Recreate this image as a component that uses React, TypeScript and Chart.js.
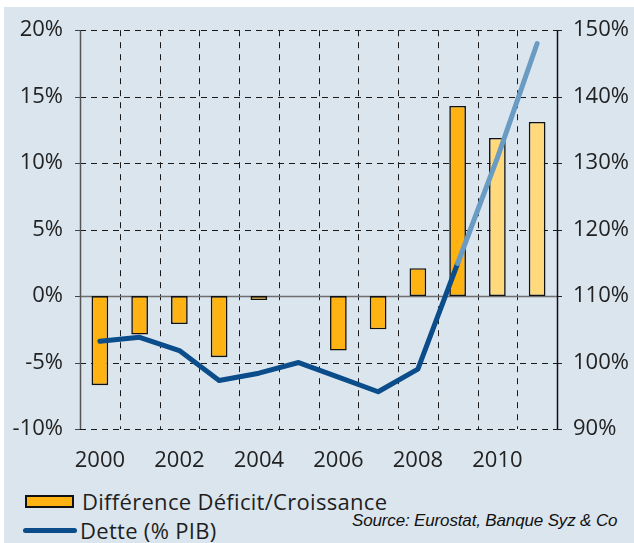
import React, { useEffect, useRef } from 'react';
import { Chart, registerables } from 'chart.js';

Chart.register(...registerables);

const years = ['2000', '2001', '2002', '2003', '2004', '2005', '2006', '2007', '2008', '2009', '2010', '2011'];
const forecastYears = ['2010', '2011'];
const diffValues: (number | null)[] = [-6.7, -2.9, -2.1, -4.6, -0.3, null, -4.1, -2.5, 2.1, 14.3, 11.9, 13.1];
const debtValues = [103.2, 103.8, 101.8, 97.3, 98.4, 100.0, 97.8, 95.6, 99.0, 114.9, 130.8, 148.0];
const debtProjectionFrom = '2009';
const leftMin = -10, leftMax = 20, leftStep = 5;
const rightMin = 90, rightMax = 150, rightStep = 10;

const diffLabel = 'Différence Déficit/Croissance';
const debtLabel = 'Dette (% PIB)';
const sourceText = 'Source: Eurostat, Banque Syz & Co';

const BAR_DARK = '#FFB312';
const BAR_LIGHT = '#FFD97C';
const LINE_DARK = '#0B4C8A';
const LINE_LIGHT = '#6A9BC3';
const BG = '#DBE5EE';
const FONT = "'Open Sans', 'DejaVu Sans', sans-serif";

export default function App() {
  const canvasRef = useRef<HTMLCanvasElement | null>(null);

  useEffect(() => {
    const canvas = canvasRef.current;
    if (!canvas) return;
    const projIdx = years.indexOf(debtProjectionFrom);

    const gridPlugin = {
      id: 'customGrid',
      beforeDatasetsDraw(chart: any) {
        const { ctx, chartArea } = chart;
        const { left, right, top, bottom } = chartArea;
        const ys = chart.scales.y;
        const y1s = chart.scales.y1;
        const xs = chart.scales.x;
        const crisp = (v: number) => Math.round(v) + 0.5;
        ctx.save();
        ctx.lineWidth = 1;

        // vertical dashed lines at category boundaries
        ctx.strokeStyle = '#1A1A1A';
        ctx.setLineDash([6, 6]);
        for (let i = 1; i < years.length; i++) {
          const x = crisp((xs.getPixelForValue(i - 1) + xs.getPixelForValue(i)) / 2);
          ctx.beginPath();
          ctx.moveTo(x, top);
          ctx.lineTo(x, bottom);
          ctx.stroke();
        }

        // horizontal dashed lines at left ticks
        for (let v = leftMin; v <= leftMax; v += leftStep) {
          const y = crisp(ys.getPixelForValue(v));
          if (v === 0) continue;
          ctx.strokeStyle = '#1A1A1A';
          ctx.setLineDash([6, 5]);
          ctx.beginPath();
          ctx.moveTo(left, y);
          ctx.lineTo(right, y);
          ctx.stroke();
        }

        ctx.setLineDash([]);
        // tick marks left
        ctx.strokeStyle = '#444444';
        for (let v = leftMin; v <= leftMax; v += leftStep) {
          const y = crisp(ys.getPixelForValue(v));
          ctx.beginPath();
          ctx.moveTo(left - 5, y);
          ctx.lineTo(left, y);
          ctx.stroke();
        }
        // tick marks right
        ctx.strokeStyle = '#222222';
        for (let v = rightMin; v <= rightMax; v += rightStep) {
          const y = crisp(y1s.getPixelForValue(v));
          ctx.beginPath();
          ctx.moveTo(right, y);
          ctx.lineTo(right + 5, y);
          ctx.stroke();
        }

        // zero line
        const y0 = crisp(ys.getPixelForValue(0));
        ctx.strokeStyle = '#6E6E6E';
        ctx.lineWidth = 1.5;
        ctx.beginPath();
        ctx.moveTo(left, y0);
        ctx.lineTo(right, y0);
        ctx.stroke();

        // axes
        ctx.lineWidth = 1.5;
        ctx.strokeStyle = '#555555';
        ctx.beginPath();
        ctx.moveTo(crisp(left), top);
        ctx.lineTo(crisp(left), bottom);
        ctx.stroke();
        ctx.strokeStyle = '#111111';
        ctx.beginPath();
        ctx.moveTo(crisp(right), top);
        ctx.lineTo(crisp(right), bottom);
        ctx.stroke();
        ctx.restore();
      },
    };

    const chart = new Chart(canvas, {
      type: 'bar',
      data: {
        labels: years,
        datasets: [
          {
            type: 'line',
            label: debtLabel,
            data: debtValues,
            yAxisID: 'y1',
            borderColor: LINE_DARK,
            borderWidth: 5,
            pointRadius: 0,
            pointHoverRadius: 0,
            tension: 0,
            borderCapStyle: 'round',
            borderJoinStyle: 'round',
            segment: {
              borderColor: (c: any) => (c.p0DataIndex >= projIdx ? LINE_LIGHT : LINE_DARK),
            },
            order: 0,
          } as any,
          {
            type: 'bar',
            label: diffLabel,
            data: diffValues,
            yAxisID: 'y',
            backgroundColor: years.map((yr) => (forecastYears.includes(yr) ? BAR_LIGHT : BAR_DARK)),
            borderColor: '#111111',
            borderWidth: 1.6,
            borderSkipped: false,
            barPercentage: 0.42,
            categoryPercentage: 1,
            order: 1,
          } as any,
        ],
      },
      options: {
        animation: false,
        responsive: false,
        maintainAspectRatio: false,
        layout: { padding: { top: 29, left: 0, right: 0, bottom: 0 } },
        plugins: {
          legend: { display: false },
          tooltip: { enabled: false },
          title: { display: false },
        },
        scales: {
          x: {
            type: 'category',
            grid: { display: false, drawTicks: false },
            border: { display: false },
            ticks: {
              autoSkip: false,
              maxRotation: 0,
              minRotation: 0,
              padding: 19,
              color: '#222222',
              font: { family: FONT, size: 22 },
              callback: function (this: any, val: any, idx: number) {
                return idx % 2 === 0 ? this.getLabelForValue(val) : '';
              },
            },
            afterFit: (s: any) => {
              s.height = 51;
            },
          },
          y: {
            type: 'linear',
            position: 'left',
            min: leftMin,
            max: leftMax,
            grid: { display: false, drawTicks: false },
            border: { display: false },
            ticks: {
              stepSize: leftStep,
              padding: 17,
              color: '#222222',
              font: { family: FONT, size: 22 },
              callback: (v: any) => `${v}%`,
            },
            afterFit: (s: any) => {
              s.width = 80;
            },
          },
          y1: {
            type: 'linear',
            position: 'right',
            min: rightMin,
            max: rightMax,
            grid: { display: false, drawTicks: false },
            border: { display: false },
            ticks: {
              stepSize: rightStep,
              padding: 16,
              color: '#222222',
              font: { family: FONT, size: 22 },
              callback: (v: any) => `${v}%`,
            },
            afterFit: (s: any) => {
              s.width = 77;
            },
          },
        },
      },
      plugins: [gridPlugin],
    });

    return () => chart.destroy();
  }, []);

  const text: React.CSSProperties = {
    position: 'absolute',
    fontFamily: FONT,
    fontSize: 22,
    lineHeight: '22px',
    color: '#1E1E1E',
    whiteSpace: 'nowrap',
  };

  return (
    <div style={{ position: 'fixed', left: 0, top: 0, width: 634, height: 543, background: '#FFFFFF', overflow: 'hidden' }}>
      <div style={{ position: 'absolute', left: 4, top: 7, width: 630, height: 536, background: BG }} />
      <canvas ref={canvasRef} width={634} height={480} style={{ position: 'absolute', left: 0, top: 0, width: 634, height: 480 }} />
      <div style={{ position: 'absolute', left: 25, top: 495, width: 45, height: 9, background: BAR_DARK, border: '2px solid #111' }} />
      <div style={{ ...text, left: 82, top: 490, letterSpacing: '0.3px' }}>{diffLabel}</div>
      <div style={{ position: 'absolute', left: 23, top: 528, width: 54, height: 5, background: LINE_DARK, borderRadius: 3 }} />
      <div style={{ ...text, left: 80, top: 519, letterSpacing: '0.3px' }}>{debtLabel}</div>
      <div
        style={{
          ...text,
          left: 352,
          top: 512,
          fontFamily: "'Liberation Sans', Arial, sans-serif",
          fontStyle: 'italic',
          fontSize: 17,
          lineHeight: '17px',
          letterSpacing: '-0.15px',
          color: '#111',
        }}
      >
        {sourceText}
      </div>
    </div>
  );
}
